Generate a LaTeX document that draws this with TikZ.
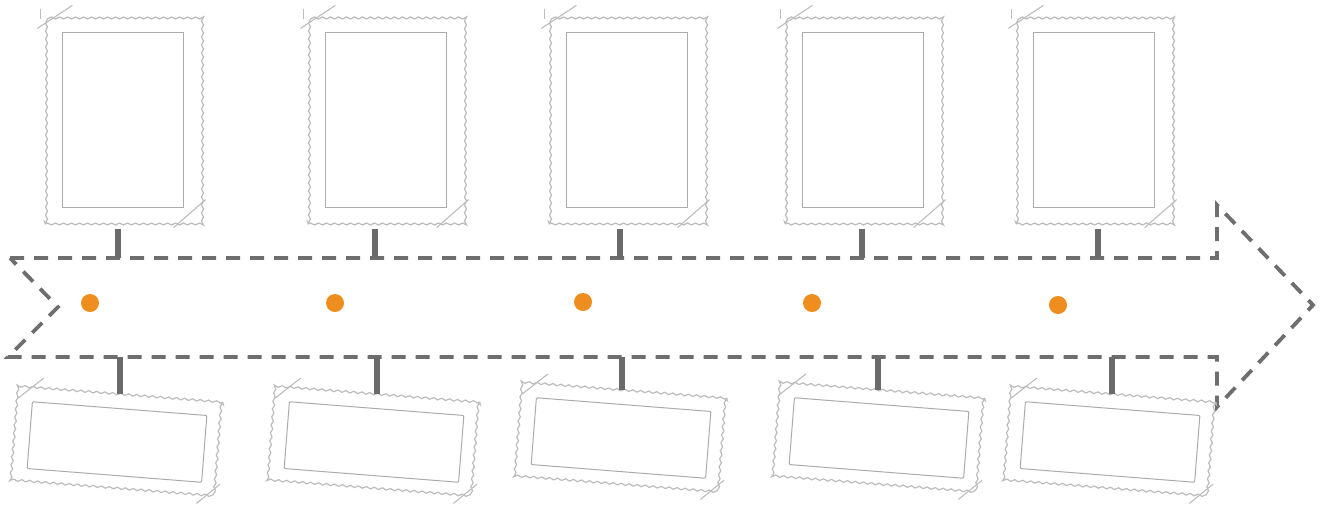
\documentclass[tikz,border=0pt]{standalone}
\usetikzlibrary{decorations.pathmorphing,calc}
\definecolor{dashgray}{HTML}{6E6E6E}
\definecolor{stubgray}{HTML}{6A6A6A}
\definecolor{wavegray}{HTML}{BDBDBD}
\definecolor{innergray}{HTML}{ABABAB}
\definecolor{dotorange}{HTML}{EE8E1E}
\tikzset{
  outerframe/.style={draw=wavegray, fill=white, line width=1.2pt, inner sep=0pt,
    decorate, decoration={snake, amplitude=1pt, segment length=8pt}},
  topouter/.style={outerframe, minimum width=155pt, minimum height=210pt},
  topinner/.style={draw=innergray, line width=1pt, inner sep=0pt, minimum width=121pt, minimum height=175pt},
  botouter/.style={outerframe, minimum width=205pt, minimum height=96pt, rotate=-4.5},
  botinner/.style={draw=innergray, line width=1pt, inner sep=0pt, minimum width=175pt, minimum height=67pt, rotate=-4.5, rounded corners=1pt},
  cornermark/.style={draw=wavegray, line width=1.1pt},
  stub/.style={draw=stubgray, line width=6pt},
  arrowline/.style={draw=dashgray, line width=3.8pt, dash pattern=on 14pt off 10pt, line join=miter},
  dot/.style={circle, fill=dotorange, inner sep=0pt, minimum size=18pt}
}
\begin{document}
\begin{tikzpicture}[x=1pt,y=-1pt]
\fill[white] (0,0) rectangle (1324,504);
\useasboundingbox (0,0) rectangle (1324,504);

% arrow outline
\coordinate (a1) at (10,258);
\coordinate (a2) at (1217,258);
\coordinate (a3) at (1217,205);
\coordinate (tip) at (1313,305);
\coordinate (a5) at (1217,407);
\coordinate (a6) at (1217,357);
\coordinate (a7) at (8,357);
\coordinate (notch) at (58,307);
\draw[arrowline] (a1) -- (a2) -- (a3) -- (tip) -- (a5) -- (a6) -- (a7) -- (notch) -- cycle;
\coordinate (top) at (0,258);
\coordinate (bot) at (0,357);

% top frames
\foreach \i/\x in {1/122.5, 2/385.5, 3/626.5, 4/862.5, 5/1093.5}{
  \node[topouter] (t\i) at (\x,119) {};
  \node[topinner] (ti\i) at (\x,119.5) {};
  \draw[cornermark] ($(t\i.north west)+(-7,15)$) -- ++(35,-23);
  \draw[cornermark] ($(t\i.north west)+(-4,-4)$) -- ++(0,10);
  \draw[cornermark] ($(t\i.south east)+(-27,3)$) -- ++(32,-28);
}

% bottom frames
\foreach \i/\x/\y in {1/117/442, 2/374/442, 3/621/438, 4/879/438, 5/1110/442}{
  \node[botouter] (b\i) at (\x,\y) {};
  \node[botinner] (bi\i) at (\x,\y) {};
  \begin{scope}[shift={(b\i.center)}, rotate=-4.5]
    \draw[cornermark] (-78,-58) -- (-102,-36);
    \draw[cornermark] (106,34) -- (84,55);
  \end{scope}
}

% stubs
\foreach \i/\sx/\bx in {1/118/120, 2/375/377, 3/620/622, 4/862/878, 5/1098/1112}{
  \coordinate (s\i) at (\sx,0);
  \coordinate (u\i) at (\bx,0);
  \draw[stub, shorten <=4pt] (t\i.south -| s\i) -- (s\i |- top);
  \draw[stub] (u\i |- bot) -- (u\i |- b\i.north);
}

% dots
\node[dot] (d1) at (90,303) {};
\node[dot] (d2) at (335,303) {};
\node[dot] (d3) at (583,302) {};
\node[dot] (d4) at (812,303) {};
\node[dot] (d5) at (1058,305) {};
\end{tikzpicture}
\end{document}
